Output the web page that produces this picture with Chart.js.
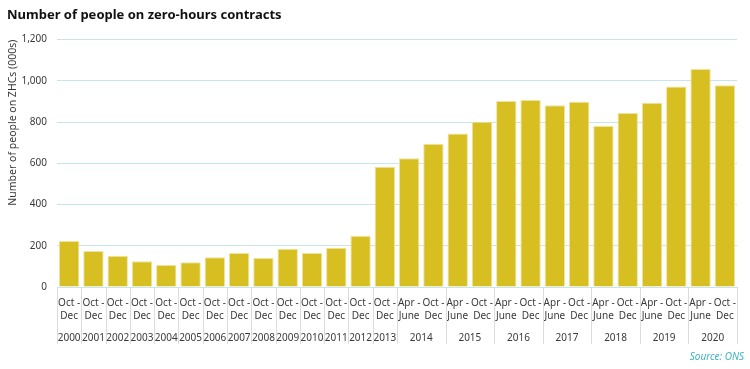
<!DOCTYPE html>
<html>
<head>
<meta charset="utf-8">
<script src="https://cdn.jsdelivr.net/npm/chart.js@4"></script>
<style>
  html, body { margin: 0; padding: 0; background: #fff; }
  #wrap { width: 750px; height: 369px; position: relative; }
</style>
</head>
<body>
<div id="wrap"><canvas id="zhc-chart"></canvas></div>
<script>
// Quarter each bar belongs to, and the year shown underneath
const periods = [
    'Oct - Dec', 'Oct - Dec', 'Oct - Dec', 'Oct - Dec', 'Oct - Dec', 'Oct - Dec', 'Oct - Dec',
    'Oct - Dec', 'Oct - Dec', 'Oct - Dec', 'Oct - Dec', 'Oct - Dec', 'Oct - Dec', 'Oct - Dec',
    'Apr - June', 'Oct - Dec', 'Apr - June', 'Oct - Dec', 'Apr - June', 'Oct - Dec',
    'Apr - June', 'Oct - Dec', 'Apr - June', 'Oct - Dec', 'Apr - June', 'Oct - Dec',
    'Apr - June', 'Oct - Dec'
];
const years = [
    '2000', '2001', '2002', '2003', '2004', '2005', '2006', '2007', '2008', '2009',
    '2010', '2011', '2012', '2013',
    '2014', '2014', '2015', '2015', '2016', '2016', '2017', '2017',
    '2018', '2018', '2019', '2019', '2020', '2020'
];
// people on zero-hours contracts, thousands
const people = [
    223, 175, 152, 125, 107, 120, 144, 165, 141, 186, 165, 190, 249, 583,
    625, 695, 745, 802, 902, 907, 881, 899, 781, 844, 894, 973, 1058, 978
];
const yTicks = [0, 200, 400, 600, 800, 1000, 1200];

const FONT = "'Noto Sans', 'Open Sans', sans-serif";
const TEXT = '#3a3a3a';

// year row + separators under the quarter labels, plus the source note
const yearRowPlugin = {
    id: 'yearRow',
    afterDraw(chart) {
        const ctx = chart.ctx;
        const x = chart.scales.x;
        const area = chart.chartArea;
        const half = (x.getPixelForValue(1) - x.getPixelForValue(0)) / 2;
        ctx.save();

        // group consecutive categories by year
        const groups = [];
        years.forEach(function(y, i) {
            const last = groups[groups.length - 1];
            if (last && last.year === y) last.end = i;
            else groups.push({ year: y, start: i, end: i });
        });

        ctx.strokeStyle = '#dcdcdc';
        ctx.lineWidth = 1;
        ctx.fillStyle = TEXT;
        ctx.font = '10px ' + FONT;
        ctx.textAlign = 'center';
        ctx.textBaseline = 'middle';
        groups.forEach(function(g, k) {
            const left = x.getPixelForValue(g.start) - half;
            const right = x.getPixelForValue(g.end) + half;
            if (k === 0) {
                ctx.beginPath();
                ctx.moveTo(Math.round(left) + 0.5, area.bottom);
                ctx.lineTo(Math.round(left) + 0.5, area.bottom + 57);
                ctx.stroke();
            }
            ctx.beginPath();
            ctx.moveTo(Math.round(right) + 0.5, area.bottom);
            ctx.lineTo(Math.round(right) + 0.5, area.bottom + 57);
            ctx.stroke();
            ctx.fillText(g.year, (left + right) / 2, area.bottom + 51);
        });

        ctx.fillStyle = '#3cb4c4';
        ctx.font = 'italic 10px ' + FONT;
        ctx.textAlign = 'right';
        ctx.fillText('Source: ONS', 744, 357);
        ctx.restore();
    }
};

new Chart(document.getElementById('zhc-chart'), {
    type: 'bar',
    data: {
        labels: periods.map(function(p) {
            const parts = p.split(' - ');
            return [parts[0] + ' -', parts[1]];
        }),
        datasets: [{
            label: 'People on zero-hours contracts (000s)',
            data: people,
            backgroundColor: '#d7bf22',
            borderColor: '#efe3a0',
            borderWidth: 1,
            barPercentage: 0.84,
            categoryPercentage: 1.0
        }]
    },
    options: {
        responsive: true,
        maintainAspectRatio: false,
        animation: false,
        layout: {
            padding: { left: 7, right: 13, top: 7, bottom: 0 }
        },
        plugins: {
            legend: { display: false },
            tooltip: { enabled: false },
            title: {
                display: true,
                text: 'Number of people on zero-hours contracts',
                align: 'start',
                color: '#111111',
                font: { family: FONT, size: 13, weight: 'bold' },
                padding: { top: 0, bottom: 17 }
            }
        },
        scales: {
            x: {
                grid: { display: false, drawTicks: false },
                border: { display: false },
                ticks: {
                    color: TEXT,
                    font: { family: FONT, size: 10, lineHeight: 1.35 },
                    padding: 9,
                    maxRotation: 0,
                    autoSkip: false
                },
                afterFit: function(scale) { scale.height = 82; }
            },
            y: {
                min: 0,
                max: 1200,
                afterBuildTicks: function(scale) {
                    scale.ticks = yTicks.map(function(v) { return { value: v }; });
                },
                grid: { color: '#c8e6e8', lineWidth: 1, drawTicks: false },
                border: { display: false },
                ticks: {
                    color: TEXT,
                    padding: 10,
                    font: { family: FONT, size: 10 },
                    callback: function(value) { return value.toLocaleString('en-US'); }
                },
                title: {
                    display: true,
                    text: 'Number of people on ZHCs (000s)',
                    align: 'end',
                    color: TEXT,
                    font: { family: FONT, size: 10.5 },
                    padding: { top: 0, bottom: 2 }
                },
                afterFit: function(scale) { scale.width = 50; }
            }
        }
    },
    plugins: [yearRowPlugin]
});
</script>
</body>
</html>
